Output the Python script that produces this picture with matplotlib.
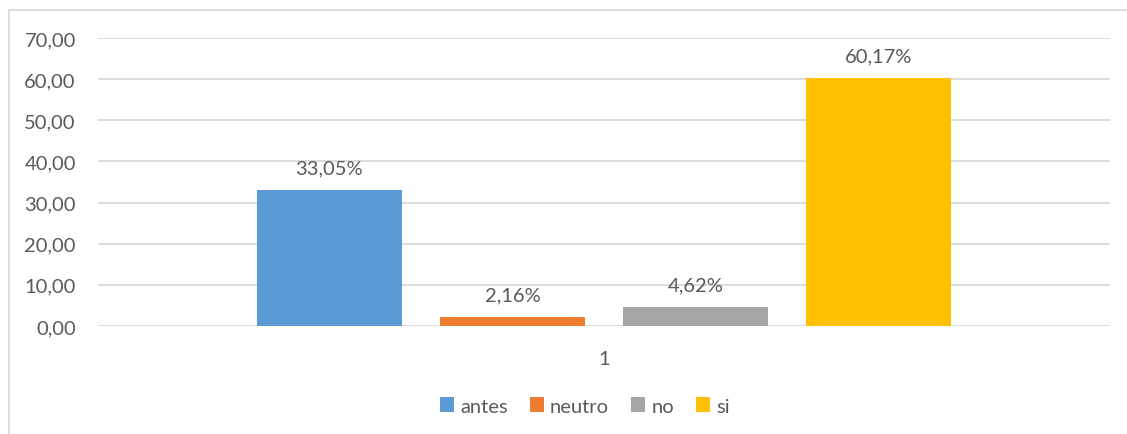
import matplotlib
matplotlib.use("Agg")
import matplotlib.pyplot as plt
from matplotlib.lines import Line2D
from matplotlib.ticker import FuncFormatter, MultipleLocator

# Data
categories = ["1"]
series_names = ["antes", "neutro", "no", "si"]
series_values = [33.05, 2.16, 4.62, 60.17]
series_colors = ["#5B9BD5", "#ED7D31", "#A5A5A5", "#FFC000"]

plt.rcParams["font.family"] = ["Lato", "DejaVu Sans"]
text_color = "#595959"
grid_color = "#D9D9D9"
fs = 14.5

W, H = 1127, 435
fig = plt.figure(figsize=(W / 100, H / 100), dpi=100)
ax = fig.add_axes([98 / W, 1 - 327 / H, (1110 - 98) / W, (327 - 39) / H])

n = len(series_names)
step = 0.181
width = 0.1433
for i, (name, val, col) in enumerate(zip(series_names, series_values, series_colors)):
    x = 0 + (i - (n - 1) / 2) * step
    ax.bar(x, val, width=width, color=col, label=name, zorder=3)
    ax.annotate(f"{val:.2f}%".replace(".", ","), (x, val), xytext=(0, 10),
                textcoords="offset points", ha="center", va="bottom",
                fontsize=fs, color=text_color)

ax.set_xlim(-0.5, 0.5)
ax.set_ylim(0, 70)
ax.yaxis.set_major_locator(MultipleLocator(10))
ax.yaxis.set_major_formatter(FuncFormatter(lambda v, p: f"{v:.2f}".replace(".", ",")))
ax.set_xticks([0])
ax.set_xticklabels(categories)
ax.tick_params(axis="both", length=0, labelsize=fs, labelcolor=text_color)
ax.tick_params(axis="y", pad=16)
ax.tick_params(axis="x", pad=17)
ax.grid(axis="y", color=grid_color, linewidth=1.3, zorder=0)
for s in ax.spines.values():
    s.set_visible(False)

# Chart area border (top and left edges)
fig.add_artist(Line2D([9 / W, 1], [1 - 11 / H, 1 - 11 / H], color=grid_color, linewidth=1.3))
fig.add_artist(Line2D([9 / W, 9 / W], [0, 1 - 11 / H], color=grid_color, linewidth=1.3))

fig.legend(loc="center", bbox_to_anchor=(585 / W, 1 - 407 / H), ncol=4, frameon=False,
           handlelength=0.7, handleheight=0.7, handletextpad=0.3, columnspacing=1.1,
           fontsize=fs, labelcolor=text_color)

fig.savefig("out.png", dpi=100, facecolor="white")
